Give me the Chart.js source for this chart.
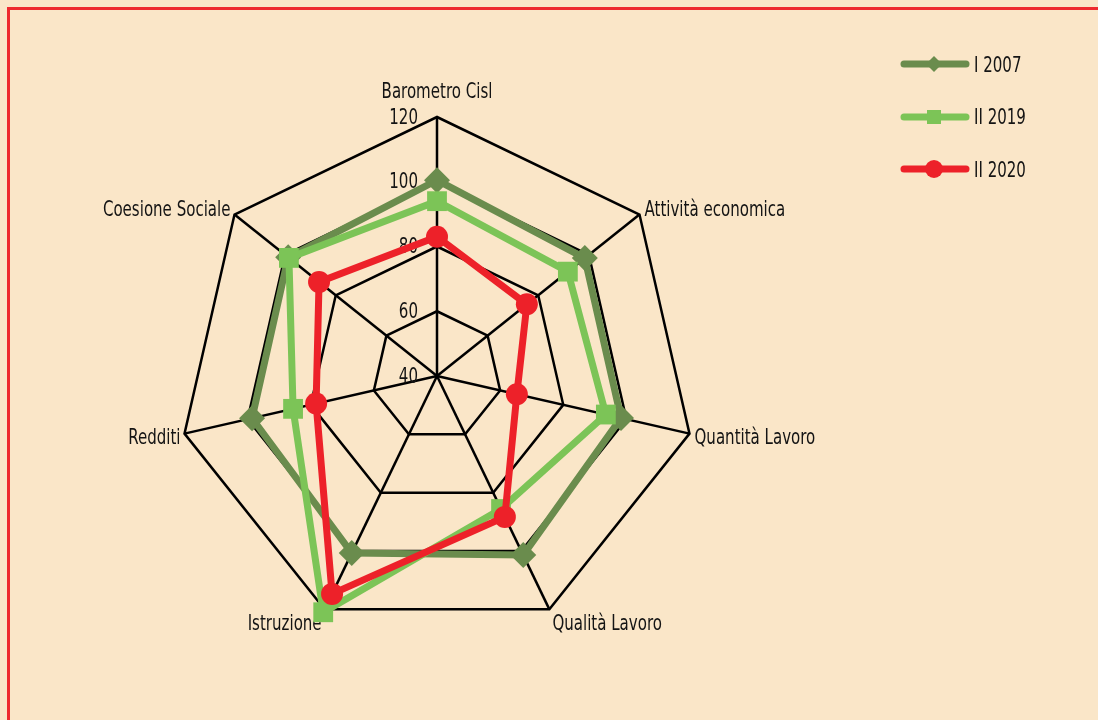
<!DOCTYPE html>
<html>
<head>
<meta charset="utf-8">
<script src="https://cdn.jsdelivr.net/npm/chart.js@4.4.1/dist/chart.umd.min.js"></script>
<style>
  html, body { margin: 0; padding: 0; background: #fae6c8; overflow: hidden; }
  body { width: 1098px; height: 720px; position: relative; font-family: "DejaVu Sans Condensed", "Liberation Sans Narrow", sans-serif; color: #141414; }
  #frame { position: absolute; left: 7px; top: 7px; width: 1100px; height: 730px; border: 3px solid #ee2a2e; }
  #chart { position: absolute; left: 0; top: 0; }
  #legend { position: absolute; left: 896px; top: 38px; }
  .item { height: 52.5px; display: flex; align-items: center; }
  .item canvas { display: block; }
  .item span { font-size: 22px; margin-left: 2px; display: inline-block; transform: scaleX(0.76); transform-origin: left center; }
</style>
</head>
<body>
<div id="frame"></div>
<canvas id="chart" width="1098" height="720"></canvas>
<div id="legend"></div>
<script>
const categories = ['Barometro Cisl', 'Attività economica', 'Quantità Lavoro', 'Qualità Lavoro', 'Istruzione', 'Redditi', 'Coesione Sociale'];
const seriesNames = ['I 2007', 'II 2019', 'II 2020'];
const values2007 = [100.5, 98.4, 98.3, 101.4, 100.7, 98.6, 98.8];
const values2019 = [94, 91.7, 93.5, 85.6, 121, 85.6, 98.5];
const values2020 = [83, 75.5, 65.3, 88.3, 114.7, 78.3, 86.6];
const tickValues = [40, 60, 80, 100, 120];

const colors = ['#6a8c4d', '#7cc457', '#ed2129'];
const pointStyles = ['rectRot', 'rect', 'circle'];
const pointSizes = [13, 14, 11];
const FONT = '22px "DejaVu Sans Condensed", "Liberation Sans Narrow", sans-serif';
const SQUEEZE = 0.76; // the original face is very narrow

// where each axis label sits relative to its outer vertex
const labelPlace = [
  { align: 'center', dx: 0, dy: -25 },
  { align: 'left', dx: 5, dy: -4 },
  { align: 'left', dx: 5, dy: 5 },
  { align: 'left', dx: 3, dy: 15 },
  { align: 'right', dx: -3, dy: 15 },
  { align: 'right', dx: -4, dy: 5 },
  { align: 'right', dx: -4, dy: -4 }
];

function narrowText(ctx, text, x, y, align) {
  ctx.save();
  ctx.translate(x, y);
  ctx.scale(SQUEEZE, 1);
  ctx.textAlign = align;
  ctx.fillText(text, 0, 0);
  ctx.restore();
}

const radarLabels = {
  id: 'radarLabels',
  beforeDatasetsDraw(chart) {
    const r = chart.scales.r;
    const ctx = chart.ctx;
    ctx.save();
    ctx.font = FONT;
    ctx.fillStyle = '#141414';
    ctx.textBaseline = 'middle';
    tickValues.forEach(v => {
      const p = r.getPointPositionForValue(0, v);
      narrowText(ctx, String(v), p.x - 19, p.y + 1, 'right');
    });
    categories.forEach((name, i) => {
      const p = r.getPointPosition(i, r.drawingArea);
      const pl = labelPlace[i];
      narrowText(ctx, name, p.x + pl.dx, p.y + pl.dy, pl.align);
    });
    ctx.restore();
  }
};

const allValues = [values2007, values2019, values2020];

new Chart(document.getElementById('chart'), {
  type: 'radar',
  data: {
    labels: categories,
    datasets: allValues.map((vals, i) => ({
      label: seriesNames[i],
      data: vals,
      borderColor: colors[i],
      backgroundColor: colors[i],
      pointBackgroundColor: colors[i],
      pointBorderColor: colors[i],
      pointBorderWidth: 0,
      borderWidth: 7,
      fill: false,
      pointStyle: pointStyles[i],
      pointRadius: pointSizes[i],
      pointHoverRadius: pointSizes[i],
      order: 2 - i
    }))
  },
  options: {
    responsive: false,
    animation: false,
    layout: { padding: { left: 178, right: 402, top: 117, bottom: 85 } },
    plugins: { legend: { display: false }, tooltip: { enabled: false } },
    scales: {
      r: {
        min: 40,
        max: 120,
        ticks: { stepSize: 20, display: false },
        pointLabels: { display: false },
        grid: { color: '#000', lineWidth: 2.5 },
        angleLines: { color: '#000', lineWidth: 2.5 }
      }
    }
  },
  plugins: [radarLabels]
});

// legend
const legend = document.getElementById('legend');
seriesNames.forEach((name, i) => {
  const item = document.createElement('div');
  item.className = 'item';
  const c = document.createElement('canvas');
  c.width = 76; c.height = 30;
  const g = c.getContext('2d');
  g.strokeStyle = colors[i];
  g.fillStyle = colors[i];
  g.lineWidth = 7;
  g.lineCap = 'round';
  g.beginPath(); g.moveTo(8, 15); g.lineTo(70, 15); g.stroke();
  g.beginPath();
  if (i === 0) { g.moveTo(38, 7); g.lineTo(46, 15); g.lineTo(38, 23); g.lineTo(30, 15); g.closePath(); }
  else if (i === 1) { g.rect(31, 8, 14, 14); }
  else { g.arc(38, 15, 9, 0, Math.PI * 2); }
  g.fill();
  const s = document.createElement('span');
  s.textContent = name;
  item.appendChild(c);
  item.appendChild(s);
  legend.appendChild(item);
});
</script>
</body>
</html>
